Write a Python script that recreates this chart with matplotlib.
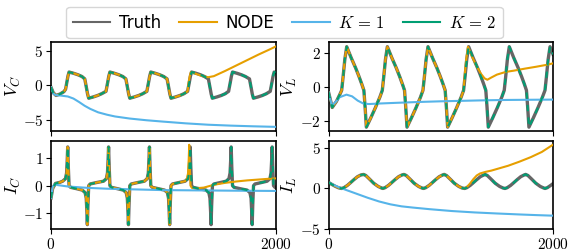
import matplotlib
matplotlib.use('Agg')
import matplotlib.pyplot as plt
from matplotlib.lines import Line2D
import numpy as np

matplotlib.rcParams['font.family'] = 'serif'
matplotlib.rcParams['font.serif'] = ['cmr10']
matplotlib.rcParams['mathtext.fontset'] = 'cm'
matplotlib.rcParams['axes.formatter.use_mathtext'] = True
matplotlib.rcParams['axes.unicode_minus'] = True

# colours
c_truth = '#666666'
c_node = '#E69F00'
c_k1 = '#56B4E9'
c_k2 = '#009E73'

#### V_C ####
vc_t = [0, 20, 45, 80, 115, 130, 141, 151, 161,
        201, 241, 276, 301, 316, 326, 336, 376, 416, 451, 490, 505, 515, 525,
        565, 605, 640, 667, 682, 692, 702, 742, 782, 817, 854, 869, 879, 889,
        929, 969, 1004, 1034, 1049, 1059, 1069, 1109, 1149, 1184, 1217, 1232, 1242, 1252,
        1292, 1332, 1367, 1402, 1417, 1427, 1437, 1477, 1517, 1552, 1582, 1597, 1607, 1617,
        1657, 1697, 1732, 1768, 1783, 1793, 1803, 1843, 1883, 1918, 1953, 1968, 1978, 1988, 2000]
vc_truth = [-0.3, -1.1, -1.5, -1.3, -0.95, -0.6, 0.4, 1.3, 1.9,
            1.72, 1.5, 1.25, 0.9, -0.4, -1.3, -1.9, -1.72, -1.5, -1.25, -0.9, 0.4, 1.3, 1.9,
            1.72, 1.5, 1.25, 0.9, -0.4, -1.3, -1.9, -1.72, -1.5, -1.25, -0.9, 0.4, 1.3, 1.9,
            1.72, 1.5, 1.25, 0.9, -0.4, -1.3, -1.9, -1.72, -1.5, -1.25, -0.9, 0.4, 1.3, 1.9,
            1.72, 1.5, 1.25, 0.9, -0.4, -1.3, -1.9, -1.72, -1.5, -1.25, -0.9, 0.4, 1.3, 1.9,
            1.72, 1.5, 1.25, 0.9, -0.4, -1.3, -1.9, -1.72, -1.5, -1.25, -0.9, 0.4, 1.3, 1.9, 1.85]
vc_node_cut = 1217
vc_node_tail_t = [1226, 1236, 1246, 1290, 1340, 1400, 1450, 1550, 1650, 1750, 1850, 1950, 2000]
vc_node_tail = [0.4, 1.3, 1.9, 1.65, 1.35, 1.15, 1.3, 2.05, 2.85, 3.65, 4.45, 5.2, 5.6]
vc_k1_t = [0, 20, 40, 80, 150, 200, 250, 300, 350, 420, 500, 570, 700, 850, 1000, 1200, 1400, 1600, 1800, 2000]
vc_k1 = [-0.3, -1.2, -1.45, -1.5, -1.65, -1.95, -2.45, -3.0, -3.45, -3.95, -4.3, -4.55, -4.85,
         -5.1, -5.3, -5.55, -5.75, -5.88, -5.98, -6.06]

#### V_L ####
vl_t = [0, 33, 70, 100, 117, 130, 145, 162,
        202, 242, 272, 297, 315, 326, 337, 377, 417, 457, 479, 492, 507, 524,
        564, 604, 634, 659, 677, 688, 699, 739, 779, 819, 841, 854, 869, 886,
        926, 966, 996, 1021, 1039, 1050, 1061, 1101, 1141, 1181, 1203, 1216, 1231, 1248,
        1288, 1328, 1358, 1383, 1401, 1412, 1423, 1463, 1503, 1543, 1565, 1578, 1593, 1610,
        1650, 1690, 1720, 1745, 1763, 1774, 1785, 1825, 1865, 1905, 1928, 1941, 1956, 1973, 2000]
vl_truth = [-0.3, -1.2, -0.85, -0.45, -0.2, 0.6, 1.6, 2.35,
            1.7, 1.1, 0.6, 0.15, -0.2, -1.2, -2.35, -1.8, -1.22, -0.6, -0.2, 0.6, 1.6, 2.35,
            1.7, 1.1, 0.6, 0.15, -0.2, -1.2, -2.35, -1.8, -1.22, -0.6, -0.2, 0.6, 1.6, 2.35,
            1.7, 1.1, 0.6, 0.15, -0.2, -1.2, -2.35, -1.8, -1.22, -0.6, -0.2, 0.6, 1.6, 2.35,
            1.7, 1.1, 0.6, 0.15, -0.2, -1.2, -2.35, -1.8, -1.22, -0.6, -0.2, 0.6, 1.6, 2.35,
            1.7, 1.1, 0.6, 0.15, -0.2, -1.2, -2.35, -1.8, -1.22, -0.6, -0.2, 0.6, 1.6, 2.35, 1.9]
vl_node_cut = 1203
vl_node_tail_t = [1212, 1226, 1242, 1280, 1320, 1360, 1390, 1415, 1450, 1500, 1580, 1650, 1750, 1850, 1950, 2000]
vl_node_tail = [0.6, 1.6, 2.35, 1.75, 1.2, 0.75, 0.5, 0.42, 0.55, 0.72, 0.88, 0.95, 1.07, 1.18, 1.3, 1.38]
vl_k1_t = [0, 30, 60, 100, 160, 210, 260, 310, 360, 450, 600, 800, 1000, 1200, 1400, 1600, 1800, 2000]
vl_k1 = [-0.3, -1.1, -0.9, -0.6, -0.45, -0.55, -0.8, -0.97, -1.0, -0.97, -0.93, -0.88, -0.84,
         -0.81, -0.78, -0.76, -0.75, -0.74]

#### I_C ####
ic_t = [0, 15, 40, 80, 104, 129, 139, 145, 149,
        154, 161, 174, 229, 279, 304, 314, 320, 324, 329, 336, 349, 404, 468, 493, 503, 509, 513,
        518, 525, 538, 593, 645, 670, 680, 686, 690, 695, 702, 715, 770, 832, 857, 867, 873, 877,
        882, 889, 902, 957, 1012, 1037, 1047, 1053, 1057, 1062, 1069, 1082, 1137, 1195, 1220, 1230, 1236, 1240,
        1245, 1252, 1265, 1320, 1381, 1406, 1416, 1422, 1426, 1431, 1438, 1451, 1506, 1560, 1585, 1595, 1601, 1605,
        1610, 1617, 1630, 1685, 1747, 1772, 1782, 1788, 1792, 1797, 1804, 1817, 1872, 1925, 1950, 1960, 1966, 1970,
        1975, 1982, 1995, 2000]
ic_truth = [-0.45, -0.1, 0.08, 0.12, 0.16, 0.25, 0.45, 0.95, 1.39,
            0.7, 0.0, -0.06, -0.11, -0.16, -0.25, -0.45, -0.95, -1.4, -0.7, 0.0, 0.06, 0.11, 0.16, 0.25, 0.45, 0.95, 1.39,
            0.7, 0.0, -0.06, -0.11, -0.16, -0.25, -0.45, -0.95, -1.4, -0.7, 0.0, 0.06, 0.11, 0.16, 0.25, 0.45, 0.95, 1.39,
            0.7, 0.0, -0.06, -0.11, -0.16, -0.25, -0.45, -0.95, -1.4, -0.7, 0.0, 0.06, 0.11, 0.16, 0.25, 0.45, 0.95, 1.39,
            0.7, 0.0, -0.06, -0.11, -0.16, -0.25, -0.45, -0.95, -1.4, -0.7, 0.0, 0.06, 0.11, 0.16, 0.25, 0.45, 0.95, 1.39,
            0.7, 0.0, -0.06, -0.11, -0.16, -0.25, -0.45, -0.95, -1.4, -0.7, 0.0, 0.06, 0.11, 0.16, 0.25, 0.45, 0.95, 1.39,
            0.7, 0.0, -0.06, -0.07]
ic_node_cut = 1195
ic_node_tail_t = [1211, 1221, 1227, 1231, 1236, 1243, 1256, 1300, 1361, 1450, 1550, 1650, 1750, 1850, 1950, 2000]
ic_node_tail = [0.25, 0.45, 0.95, 1.47, 0.7, 0.0, -0.08, -0.09, -0.07, 0.03, 0.1, 0.15, 0.19, 0.22, 0.25, 0.26]
ic_k1_t = [0, 15, 35, 60, 150, 330, 500, 700, 1000, 1300, 1600, 2000]
ic_k1 = [-0.45, -0.05, 0.05, 0.02, -0.03, -0.08, -0.11, -0.13, -0.16, -0.17, -0.18, -0.19]

#### I_L ####
il_t = [0, 30, 60, 90, 118,
        138, 168, 193, 223, 258, 288, 312, 332, 362, 402, 442, 472, 484,
        504, 534, 559, 589, 624, 654, 672, 692, 722, 762, 802, 832, 846,
        866, 896, 921, 951, 986, 1016, 1030, 1050, 1080, 1120, 1160, 1190, 1212,
        1232, 1262, 1287, 1317, 1352, 1382, 1394, 1414, 1444, 1484, 1524, 1554, 1572,
        1592, 1622, 1647, 1677, 1712, 1742, 1756, 1776, 1806, 1846, 1886, 1916, 1929,
        1949, 1979, 2000]
il_truth = [0.75, 0.5, 0.27, 0.08, 0.0,
            0.1, 0.38, 0.68, 1.05, 1.45, 1.66, 1.73, 1.6, 1.2, 0.65, 0.25, 0.06, 0.0,
            0.1, 0.38, 0.68, 1.05, 1.45, 1.66, 1.73, 1.6, 1.2, 0.65, 0.25, 0.06, 0.0,
            0.1, 0.38, 0.68, 1.05, 1.45, 1.66, 1.73, 1.6, 1.2, 0.65, 0.25, 0.06, 0.0,
            0.1, 0.38, 0.68, 1.05, 1.45, 1.66, 1.73, 1.6, 1.2, 0.65, 0.25, 0.06, 0.0,
            0.1, 0.38, 0.68, 1.05, 1.45, 1.66, 1.73, 1.6, 1.2, 0.65, 0.25, 0.06, 0.0,
            0.1, 0.38, 0.6]
il_node_cut = 1190
il_node_tail_t = [1208, 1230, 1260, 1290, 1320, 1350, 1400, 1450, 1500, 1600, 1700, 1800, 1900, 2000]
il_node_tail = [0.0, 0.15, 0.6, 1.15, 1.6, 1.85, 2.05, 2.2, 2.4, 2.8, 3.3, 3.85, 4.5, 5.4]
il_k1_t = [0, 50, 100, 150, 250, 350, 450, 550, 650, 750, 900, 1100, 1300, 1500, 1700, 1850, 2000]
il_k1 = [0.75, 0.4, 0.1, -0.15, -0.65, -1.15, -1.6, -1.95, -2.2, -2.35, -2.55, -2.78, -2.95,
         -3.08, -3.2, -3.28, -3.35]


def node_series(t, truth, cut, tail_t, tail):
	#NODE follows the truth up to the cut, then drifts off
	t = np.array(t)
	truth = np.array(truth)
	keep = t <= cut
	return np.concatenate([t[keep], tail_t]), np.concatenate([truth[keep], tail])


panels = [
	('$V_C$', vc_t, vc_truth, vc_node_cut, vc_node_tail_t, vc_node_tail, vc_k1_t, vc_k1, (-6.6, 6.25), [-5, 0, 5]),
	('$V_L$', vl_t, vl_truth, vl_node_cut, vl_node_tail_t, vl_node_tail, vl_k1_t, vl_k1, (-2.55, 2.62), [-2, 0, 2]),
	('$I_C$', ic_t, ic_truth, ic_node_cut, ic_node_tail_t, ic_node_tail, ic_k1_t, ic_k1, (-1.56, 1.62), [-1, 0, 1]),
	('$I_L$', il_t, il_truth, il_node_cut, il_node_tail_t, il_node_tail, il_k1_t, il_k1, (-5.0, 5.9), [-5, 0, 5]),
]

fig, axs = plt.subplots(2, 2, sharex=True, figsize=(5.69, 2.52), dpi=100)
fig.subplots_adjust(left=0.0896, right=0.972, top=0.833, bottom=0.091, wspace=0.236, hspace=0.113)

for i, (ax, (lab, t, truth, cut, tail_t, tail, k1_t, k1, ylim, yt)) in enumerate(zip(axs.flat, panels)):
	nt, nv = node_series(t, truth, cut, tail_t, tail)
	ax.plot(t, truth, color=c_truth, lw=2.4, zorder=2)
	ax.plot(nt, nv, color=c_node, lw=1.5, zorder=3)
	ax.plot(k1_t, k1, color=c_k1, lw=1.5, zorder=3)
	ax.plot(t, truth, color=c_k2, lw=1.5, ls=(0, (3, 3)), zorder=4)
	ax.set_ylim(ylim)
	ax.set_yticks(yt)
	ax.set_xlim(0, 2000)
	ax.set_xticks([0, 2000])
	ax.set_ylabel(lab, fontsize=13)
	# keep the label clear of the figure edge
	ax.yaxis.set_label_coords(-0.125 if i % 2 == 0 else -0.133, 0.5)
	ax.tick_params(labelsize=11, pad=2)
	for s in ax.spines.values():
		s.set_linewidth(1.2)

handles = [Line2D([], [], color=c_truth, lw=1.5),
           Line2D([], [], color=c_node, lw=1.5),
           Line2D([], [], color=c_k1, lw=1.5),
           Line2D([], [], color=c_k2, lw=1.5)]
fig.legend(handles, ['Truth', 'NODE', r'$K\,=\,1$', r'$K\,=\,2$'], loc='upper center', ncol=4,
           bbox_to_anchor=(0.5, 1.005), prop={'family': 'DejaVu Sans', 'size': 12},
           handlelength=2.25, columnspacing=1.1, handletextpad=0.5, borderpad=0.4)

plt.savefig('out.png', dpi=100)
